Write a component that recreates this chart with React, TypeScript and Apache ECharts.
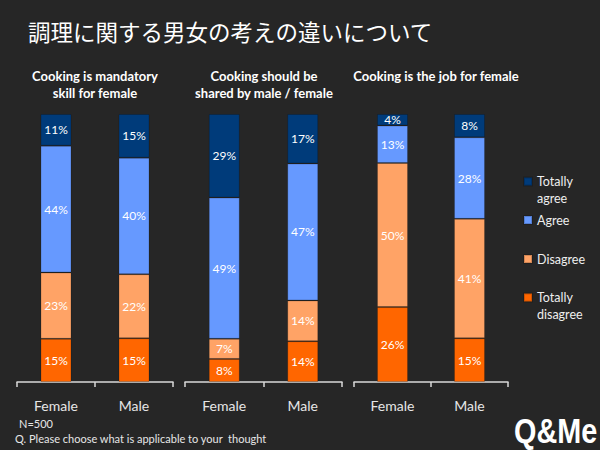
import React, { useEffect, useRef } from "react";
import * as echarts from "echarts";

const categories = ["Female", "Male"];
const panelTitles = [
  "Cooking is mandatory\nskill for female",
  "Cooking should be\nshared by male / female",
  "Cooking is the job for female",
];
const seriesNames = ["Totally disagree", "Disagree", "Agree", "Totally agree"];
const legendLabels = ["Totally\ndisagree", "Disagree", "Agree", "Totally\nagree"];
// each entry: one panel, values for [Female, Male]
const totallyDisagree = [[15, 15], [8, 14], [26, 15]];
const disagree = [[23, 22], [7, 14], [50, 41]];
const agree = [[44, 40], [49, 47], [13, 28]];
const totallyAgree = [[11, 15], [29, 17], [4, 8]];

const title = "調理に関する男女の考えの違いについて";
const note1 = "N=500";
const note2 = "Q. Please choose what is applicable to your  thought";

const colors = ["#FF6600", "#FFA366", "#6699FF", "#003B7A"];
const BG = "#262626";
const FONT = "Lato, 'Noto Sans', sans-serif";

export default function App() {
  const ref = useRef<HTMLDivElement>(null);
  useEffect(() => {
    if (!ref.current) return;
    const chart = echarts.init(ref.current, undefined, { renderer: "svg" });
    const groups = [totallyDisagree, disagree, agree, totallyAgree];
    const gridLeft = [17, 185, 354];
    const gridWidth = [156, 157, 154];
    const grids = gridLeft.map((l, i) => ({ left: l, width: gridWidth[i], top: 114, height: 268 }));
    const xAxes = grids.map((_, i) => ({
      type: "category",
      gridIndex: i,
      data: categories,
      axisLine: { lineStyle: { color: "#d9d9d9", width: 1.5 } },
      axisTick: { show: true, length: 5, lineStyle: { color: "#d9d9d9", width: 1.5 } },
      axisLabel: { color: "#e6e6e6", fontSize: 14, fontFamily: FONT, margin: 16 },
    }));
    const yAxes = grids.map((_, i) => ({ type: "value", gridIndex: i, min: 0, max: 100, show: false }));
    const series: any[] = [];
    for (let p = 0; p < 3; p++) {
      const totals = categories.map((_, c) => groups.reduce((s, g) => s + g[p][c], 0));
      groups.forEach((g, s) => {
        series.push({
          type: "bar",
          name: seriesNames[s],
          stack: "p" + p,
          xAxisIndex: p,
          yAxisIndex: p,
          barWidth: 31,
          itemStyle: { color: colors[s], borderColor: "rgba(0,0,0,0.18)", borderWidth: 1 },
          label: {
            show: true,
            position: "inside",
            color: "#ffffff",
            fontSize: 12,
            fontFamily: FONT,
            formatter: (pr: any) => pr.data.raw + "%",
          },
          data: categories.map((_, c) => ({ value: (g[p][c] / totals[c]) * 100, raw: g[p][c] })),
        });
      });
    }
    const iconTops = [180, 219, 258, 296];
    const legendOrder = [3, 2, 1, 0];
    const legends = legendOrder.map((s, k) => {
      const multi = legendLabels[s].includes("\n");
      return {
        data: [seriesNames[s]],
        left: 518,
        top: multi ? iconTops[k] - 29 : iconTops[k] - 12.5,
        orient: "vertical",
        icon: "rect",
        itemWidth: 8,
        itemHeight: 8,
        selectedMode: false,
        textStyle: { color: "#eeeeee", fontSize: 12.5, lineHeight: 17, fontFamily: FONT },
        formatter: () => (multi ? "\u00a0\n" + legendLabels[s] : legendLabels[s]),
      };
    });
    const panelCenters = [95, 264, 436];
    const graphics: any[] = [
      {
        type: "text",
        left: 28,
        top: 20,
        style: { text: title, fill: "#ffffff", fontSize: 22.5, fontFamily: "'Noto Sans CJK JP', sans-serif" },
      },
      ...panelTitles.map((t, i) => ({
        type: "text",
        x: panelCenters[i],
        y: 67,
        style: {
          text: t,
          fill: "#ffffff",
          fontSize: 13,
          fontWeight: "bold",
          lineHeight: 17,
          align: "center",
          verticalAlign: "top",
          fontFamily: FONT,
        },
      })),
      { type: "text", x: 19, y: 418, style: { text: note1, fill: "#e6e6e6", fontSize: 11, fontFamily: FONT } },
      { type: "text", x: 15, y: 433, style: { text: note2, fill: "#e6e6e6", fontSize: 11, fontFamily: FONT } },
      {
        type: "text",
        x: 514,
        y: 412,
        scaleX: 0.8,
        style: {
          text: "Q&Me",
          fill: "#ffffff",
          fontSize: 36,
          fontWeight: 900,
          verticalAlign: "top",
          fontFamily: "'Liberation Sans', sans-serif",
        },
      },
    ];
    chart.setOption({
      animation: false,
      backgroundColor: BG,
      grid: grids,
      xAxis: xAxes,
      yAxis: yAxes,
      series,
      legend: legends,
      graphic: graphics,
    });
    return () => chart.dispose();
  }, []);
  return (
    <div
      ref={ref}
      style={{ position: "fixed", left: 0, top: 0, width: 600, height: 450, background: BG }}
    />
  );
}
